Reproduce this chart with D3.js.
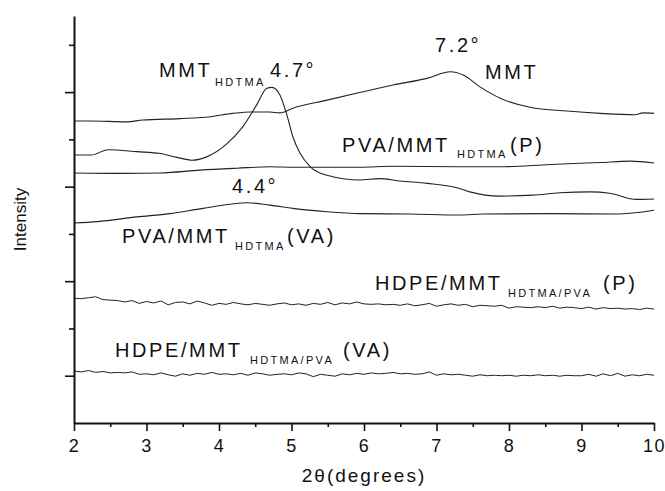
<!DOCTYPE html>
<html>
<head>
<meta charset="utf-8">
<script src="https://cdn.jsdelivr.net/npm/d3@7"></script>
<style>
  body { margin: 0; background: #fff; }
  svg text { font-family: "Liberation Sans", Arial, sans-serif; fill: #111; }
</style>
</head>
<body>
<div id="chart"></div>
<script>
// x tick labels / ticks
var xMajor = [2, 3, 4, 5, 6, 7, 8, 9, 10];
var xMinor = [2.5, 3.5, 4.5, 5.5, 6.5, 7.5, 8.5, 9.5];
var yMajor = [100, 300, 500, 700];
var yMinor = [200, 400, 600, 800];

// smooth patterns: [2theta, intensity]
var mmt = [[2.0,639],[2.22,639],[2.73,637],[2.95,641],[3.46,644],[3.88,648],[4.19,655],[4.43,658],
  [4.70,658],[4.84,656],[5.02,666],[5.49,683],[5.94,699],[6.40,715],[6.87,729],[7.19,743],[7.37,736],
  [7.60,711],[7.88,687],[8.29,668],[8.80,660],[9.26,655],[9.74,652],[9.85,656],[10.0,655]];

var mmtHdtma = [[2.0,567],[2.24,567],[2.47,578],[2.87,574],[3.19,570],[3.42,562],[3.63,556],[3.83,563],
  [4.11,591],[4.33,627],[4.52,673],[4.66,708],[4.73,710],[4.84,694],[4.93,655],[5.02,605],[5.12,570],
  [5.26,542],[5.49,524],[5.94,514],[6.22,517],[6.50,512],[6.87,507],[7.32,496],[7.46,489],[7.88,480],
  [8.33,482],[8.70,487],[9.12,489],[9.39,486],[9.76,473],[10.0,474]];

var pvaP = [[2.0,529],[2.68,528],[3.19,529],[3.74,535],[4.25,539],[4.70,542],[5.02,541],[5.94,541],
  [6.40,543],[7.32,542],[7.88,542],[8.57,547],[9.26,551],[9.67,554],[10.0,550]];

var pvaVA = [[2.0,423],[2.32,426],[2.87,436],[3.32,443],[3.78,454],[4.39,466],[4.70,461],[5.02,454],
  [5.49,447],[5.94,443],[6.63,442],[7.32,440],[7.64,442],[8.57,443],[9.49,442],[10.0,450]];

// noisy patterns, sampled every 0.1 degree from 2 to 10
var theta = d3.range(0, 81).map(function (i) { return 2 + i / 10; });
var hdpeP = [264,263,265,267,261,260,259,256,259,253,257,254,258,250,255,256,252,258,254,249,
  253,251,255,252,250,253,251,249,252,254,250,252,249,253,251,255,250,254,252,256,
  252,251,252,250,251,249,252,248,250,253,247,250,252,249,251,246,249,248,247,249,
  243,246,245,244,246,244,247,243,245,244,242,245,241,244,242,243,241,242,240,243,241];
var hdpeVA = [110,108,111,107,109,106,107,106,108,103,104,102,106,102,99,104,101,105,103,107,
  103,104,102,105,101,106,104,101,103,104,102,106,104,98,103,101,99,104,102,105,
  103,106,104,105,107,104,105,103,104,108,101,104,102,103,101,99,102,100,101,100,
  101,99,101,100,102,100,101,99,101,100,100,103,99,104,100,105,99,102,100,103,101];

var chart = { width: 665, height: 491, margin: { top: 16, left: 74, right: 11, bottom: 68 } };
var w = chart.width - chart.margin.left - chart.margin.right;
var h = chart.height - chart.margin.top - chart.margin.bottom;

var x = d3.scaleLinear().domain([2, 10]).range([0, w]);
var y = d3.scaleLinear().domain([0, 861]).range([h, 0]);

var svg = d3.select("#chart").append("svg")
  .attr("width", chart.width)
  .attr("height", chart.height)
  .append("g")
  .attr("transform", "translate(" + chart.margin.left + "," + chart.margin.top + ")");

var line = d3.line()
  .x(function (d) { return x(d[0]); })
  .y(function (d) { return y(d[1]); });

var smooth = [mmt, mmtHdtma, pvaP, pvaVA];
smooth.forEach(function (s) {
  svg.append("path")
    .datum(s)
    .attr("fill", "none")
    .attr("stroke", "#222")
    .attr("stroke-width", 1.1)
    .attr("d", line.curve(d3.curveMonotoneX));
});

[hdpeP, hdpeVA].forEach(function (s) {
  svg.append("path")
    .datum(s.map(function (v, i) { return [theta[i], v]; }))
    .attr("fill", "none")
    .attr("stroke", "#222")
    .attr("stroke-width", 1)
    .attr("d", line.curve(d3.curveLinear));
});

// x axis: major + minor ticks
var gx = svg.append("g").attr("transform", "translate(0," + h + ")");
gx.call(d3.axisBottom(x).tickValues(xMajor).tickSize(8).tickSizeOuter(0).tickFormat(d3.format("d")));
gx.append("g").call(d3.axisBottom(x).tickValues(xMinor).tickSize(4).tickFormat(""))
  .select(".domain").remove();
gx.selectAll("text")
  .attr("y", 16)
  .attr("dy", "0.71em")
  .style("font-size", "18px")
  .style("letter-spacing", "1.5px");

// y axis: ticks only, no labels
var gy = svg.append("g");
gy.call(d3.axisLeft(y).tickValues(yMajor).tickSize(9).tickSizeOuter(0).tickFormat(""));
gy.append("g").call(d3.axisLeft(y).tickValues(yMinor).tickSize(5).tickFormat(""))
  .select(".domain").remove();

svg.selectAll(".domain").attr("stroke", "#111").attr("stroke-width", 2);
svg.selectAll(".tick line").attr("stroke", "#111").attr("stroke-width", 1.6);

// axis titles
svg.append("text")
  .attr("x", w / 2)
  .attr("y", 466)
  .attr("text-anchor", "middle")
  .style("font-size", "19px")
  .style("letter-spacing", "2px")
  .text("2\u03b8(degrees)");

svg.append("text")
  .attr("transform", "translate(-48," + (h / 2) + ") rotate(-90)")
  .attr("text-anchor", "middle")
  .style("font-size", "17px")
  .text("Intensity");

// curve annotations (page coordinates)
var labels = [
  [159, 77, "MMT", 20], [215, 86, "HDTMA", 11], [270, 77, "4.7\u00b0", 20],
  [435, 52, "7.2\u00b0", 20],
  [485, 79, "MMT", 20],
  [342, 152, "PVA/MMT", 20], [457, 158, "HDTMA", 11], [510, 152, "(P)", 20],
  [232, 193, "4.4\u00b0", 20],
  [122, 243, "PVA/MMT", 20], [235, 250, "HDTMA", 11], [287, 243, "(VA)", 20],
  [375, 290, "HDPE/MMT", 20], [508, 297, "HDTMA/PVA", 11], [603, 290, "(P)", 20],
  [115, 357, "HDPE/MMT", 20], [250, 364, "HDTMA/PVA", 11], [343, 357, "(VA)", 20]
];
d3.select("svg").selectAll("text.ann")
  .data(labels)
  .enter().append("text")
  .attr("class", "ann")
  .attr("x", function (d) { return d[0]; })
  .attr("y", function (d) { return d[1]; })
  .style("font-size", function (d) { return d[3] + "px"; })
  .style("letter-spacing", function (d) { return d[3] > 12 ? "2.6px" : "2.3px"; })
  .text(function (d) { return d[2]; });
</script>
</body>
</html>
